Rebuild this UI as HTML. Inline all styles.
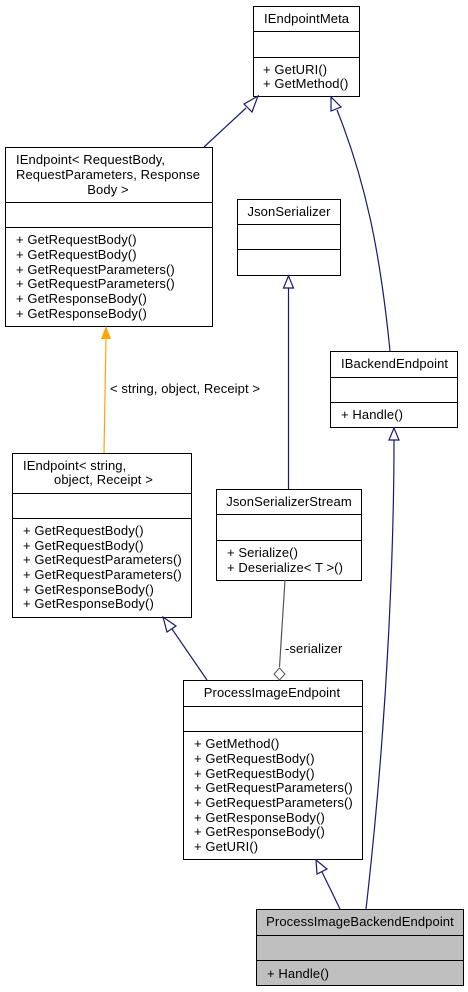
<!DOCTYPE html>
<html><head><style>
html,body{margin:0;padding:0;background:#fff;width:468px;height:992px;overflow:hidden}
svg text{font-family:"Liberation Sans",Arial,sans-serif;font-size:13px;letter-spacing:0.1px;fill:#000}
</style></head><body>
<svg width="468" height="992" viewBox="0 0 468 992" xmlns="http://www.w3.org/2000/svg">
<g fill="#fff" stroke="#000" stroke-width="1">
<rect x="253.5" y="6.5" width="106" height="90"/><line x1="253.5" y1="31.5" x2="359.5" y2="31.5"/><line x1="253.5" y1="57.5" x2="359.5" y2="57.5"/>
<rect x="5.5" y="147.5" width="207" height="179"/><line x1="5.5" y1="202.5" x2="212.5" y2="202.5"/><line x1="5.5" y1="227.5" x2="212.5" y2="227.5"/>
<rect x="237.5" y="199.5" width="103" height="76"/><line x1="237.5" y1="224.5" x2="340.5" y2="224.5"/><line x1="237.5" y1="249.5" x2="340.5" y2="249.5"/>
<rect x="330.5" y="351.5" width="127" height="76"/><line x1="330.5" y1="377.5" x2="457.5" y2="377.5"/><line x1="330.5" y1="402.5" x2="457.5" y2="402.5"/>
<rect x="12.5" y="453.5" width="179" height="164"/><line x1="12.5" y1="493.5" x2="191.5" y2="493.5"/><line x1="12.5" y1="518.5" x2="191.5" y2="518.5"/>
<rect x="216.5" y="489.5" width="145" height="91"/><line x1="216.5" y1="514.5" x2="361.5" y2="514.5"/><line x1="216.5" y1="540.5" x2="361.5" y2="540.5"/>
<rect x="183.5" y="680.5" width="179" height="179"/><line x1="183.5" y1="706.5" x2="362.5" y2="706.5"/><line x1="183.5" y1="731.5" x2="362.5" y2="731.5"/>
<rect x="256.5" y="909.5" width="207" height="76" fill="#bfbfbf"/><line x1="256.5" y1="935.5" x2="463.5" y2="935.5"/><line x1="256.5" y1="960.5" x2="463.5" y2="960.5"/>
</g>
<g fill="none" stroke="#191970" stroke-width="1.2">
<line x1="204" y1="147" x2="246" y2="108"/>
<polygon points="258,96 244,104 252,112" fill="#fff"/>
<path d="M390,351 C380,250 365,180 337,110"/>
<polygon points="331,97 331,111 341,107" fill="#fff"/>
<line x1="288.5" y1="489" x2="288.5" y2="288"/>
<polygon points="288.5,276 283.5,288 293.5,288" fill="#fff"/>
<line x1="207" y1="680" x2="172" y2="629"/>
<polygon points="163,617 167,632 176,626" fill="#fff"/>
<line x1="340" y1="909" x2="322" y2="872"/>
<polygon points="316,860 317,874 327,869" fill="#fff"/>
<path d="M366,909 C390,700 394,520 394,440"/>
<polygon points="394,428 389,440 399,440" fill="#fff"/>
</g>
<line x1="104" y1="453" x2="106" y2="338" stroke="#ffa500" stroke-width="1.2"/>
<polygon points="106,326 101,339 111,339" fill="#ffa500"/>
<line x1="285" y1="580" x2="279.5" y2="667" stroke="#555" stroke-width="1.2"/>
<polygon points="279.5,668 274,674 279.5,680 285,674" fill="#fff" stroke="#555"/>
<text x="264" y="23">IEndpointMeta</text>
<text x="263" y="74">+ GetURI()</text><text x="263" y="88">+ GetMethod()</text>
<text x="16" y="164">IEndpoint&lt; RequestBody,</text>
<text x="108" y="179" text-anchor="middle">RequestParameters, Response</text>
<text x="108" y="194" text-anchor="middle">Body &gt;</text>
<text x="16" y="244">+ GetRequestBody()</text><text x="16" y="259">+ GetRequestBody()</text><text x="16" y="274">+ GetRequestParameters()</text><text x="16" y="288">+ GetRequestParameters()</text><text x="16" y="303">+ GetResponseBody()</text><text x="16" y="318">+ GetResponseBody()</text>
<text x="289" y="216" text-anchor="middle">JsonSerializer</text>
<text x="341" y="368">IBackendEndpoint</text>
<text x="341" y="419">+ Handle()</text>
<text x="110" y="393">&lt; string, object, Receipt &gt;</text>
<text x="23" y="470">IEndpoint&lt; string,</text>
<text x="54" y="484">object, Receipt &gt;</text>
<text x="23" y="535">+ GetRequestBody()</text><text x="23" y="550">+ GetRequestBody()</text><text x="23" y="564">+ GetRequestParameters()</text><text x="23" y="579">+ GetRequestParameters()</text><text x="23" y="594">+ GetResponseBody()</text><text x="23" y="608">+ GetResponseBody()</text>
<text x="289" y="506" text-anchor="middle">JsonSerializerStream</text>
<text x="227" y="557">+ Serialize()</text><text x="227" y="572">+ Deserialize&lt; T &gt;()</text>
<text x="285" y="653">-serializer</text>
<text x="272" y="697" text-anchor="middle">ProcessImageEndpoint</text>
<text x="194" y="748">+ GetMethod()</text><text x="194" y="763">+ GetRequestBody()</text><text x="194" y="778">+ GetRequestBody()</text><text x="194" y="792">+ GetRequestParameters()</text><text x="194" y="807">+ GetRequestParameters()</text><text x="194" y="822">+ GetResponseBody()</text><text x="194" y="836">+ GetResponseBody()</text><text x="194" y="851">+ GetURI()</text>
<text x="360" y="926" text-anchor="middle">ProcessImageBackendEndpoint</text>
<text x="267" y="978">+ Handle()</text>
</svg>
</body></html>
